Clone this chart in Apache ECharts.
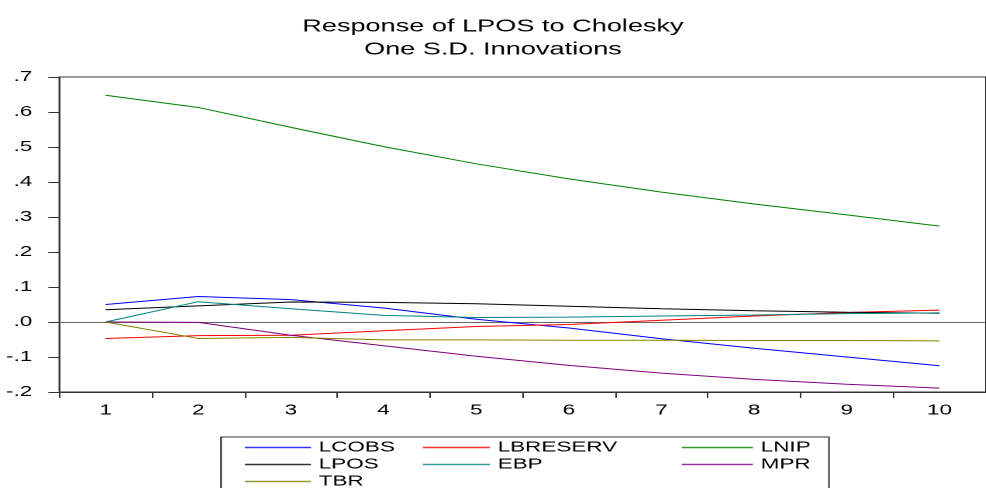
<!DOCTYPE html>
<html>
<head>
<meta charset="utf-8">
<script src="https://cdn.jsdelivr.net/npm/echarts@6/dist/echarts.min.js"></script>
<style>
html,body{margin:0;padding:0;background:#fff;overflow:hidden;width:986px;height:488px;}
#chart{width:636.13px;height:530px;transform:scaleX(1.55);transform-origin:0 0;}
</style>
</head>
<body>
<div id="chart"></div>
<script>
// ---- data ----
const periods = ['1','2','3','4','5','6','7','8','9','10'];
const yTickLabels = ['-.2','-.1','.0','.1','.2','.3','.4','.5','.6','.7'];
const yMin = -0.2, yMax = 0.7, yStep = 0.1;
const titleLines = ['Response of LPOS to Cholesky', 'One S.D. Innovations'];

const LCOBS    = [0.050, 0.073, 0.064, 0.040, 0.008, -0.017, -0.048, -0.075, -0.100, -0.125];
const LBRESERV = [-0.047, -0.039, -0.038, -0.025, -0.013, -0.007, 0.005, 0.017, 0.027, 0.034];
const LNIP     = [0.648, 0.613, 0.556, 0.501, 0.452, 0.409, 0.371, 0.337, 0.306, 0.274];
const LPOS     = [0.035, 0.046, 0.057, 0.056, 0.052, 0.045, 0.038, 0.032, 0.028, 0.025];
const EBP      = [0.000, 0.058, 0.038, 0.019, 0.013, 0.014, 0.017, 0.020, 0.024, 0.026];
const MPR      = [0.000, -0.001, -0.038, -0.068, -0.098, -0.124, -0.146, -0.164, -0.178, -0.189];
const TBR      = [0.000, -0.047, -0.044, -0.051, -0.051, -0.052, -0.052, -0.053, -0.053, -0.054];

const seriesNames  = ['LCOBS','LBRESERV','LNIP','LPOS','EBP','MPR','TBR'];
const seriesValues = [LCOBS, LBRESERV, LNIP, LPOS, EBP, MPR, TBR];
const seriesColors = ['#0000ff','#ff0000','#008000','#000000','#008080','#800080','#808000'];
const legendColumns = [['LCOBS','LPOS','TBR'], ['LBRESERV','EBP'], ['LNIP','MPR']];

// ---- chart ----
const S = 1.55; // horizontal stretch of the whole picture
const px = v => v / S;
const H = 530;  // container height (taller than the window; bottom is cut off like the reference)
const FONT = "'Liberation Sans', Arial, sans-serif";
const colorOf = name => seriesColors[seriesNames.indexOf(name)];

const chart = echarts.init(document.getElementById('chart'), null, {renderer: 'canvas', devicePixelRatio: 2});

const series = seriesNames.map((n, i) => {
  const s = {
    name: n,
    type: 'line',
    data: seriesValues[i],
    symbol: 'none',
    showSymbol: false,
    smooth: false,
    color: seriesColors[i],
    itemStyle: {color: seriesColors[i]},
    lineStyle: {width: 1, color: seriesColors[i]},
    z: 3
  };
  if (i === 0) {
    s.markLine = {
      silent: true,
      symbol: ['none','none'],
      label: {show: false},
      lineStyle: {color: '#666', width: 1, type: 'solid'},
      data: [{yAxis: 0}],
      z: 1
    };
  }
  return s;
});

const legendCommon = {
  orient: 'vertical',
  top: 435,
  itemGap: 2,
  itemHeight: 15,
  textStyle: {fontFamily: FONT, fontSize: 14.5, lineHeight: 15, color: '#000'},
  selectedMode: false
};
const legendLefts = [236, 414, 673];
const legendWidths = [66, 67, 71];

const option = {
  animation: false,
  backgroundColor: '#fff',
  title: {
    text: titleLines.join('\n'),
    left: 'center',
    top: 10,
    textStyle: {fontFamily: FONT, fontSize: 17.5, lineHeight: 23, fontWeight: 'normal', color: '#000'}
  },
  grid: {
    left: px(59.3),
    right: 636.13 - px(993),
    top: 77,
    bottom: H - 392,
    show: true,
    borderColor: '#333',
    borderWidth: 1,
    backgroundColor: 'transparent'
  },
  xAxis: {
    type: 'category',
    data: periods,
    boundaryGap: true,
    axisLine: {show: true, onZero: false, lineStyle: {color: '#333', width: 1}},
    axisTick: {show: true, length: 6, lineStyle: {color: '#333'}},
    axisLabel: {margin: 11, fontFamily: FONT, fontSize: 14.5, color: '#000'},
    splitLine: {show: false}
  },
  yAxis: {
    type: 'value',
    min: yMin, max: yMax, interval: yStep,
    axisLine: {show: true, onZero: false, lineStyle: {color: '#333', width: 1}},
    axisTick: {show: true, length: px(11), lineStyle: {color: '#333'}},
    axisLabel: {
      margin: px(27),
      fontFamily: FONT, fontSize: 14.5, color: '#000',
      formatter: v => yTickLabels[Math.round((v - yMin) / yStep)]
    },
    splitLine: {show: false}
  },
  legend: legendColumns.map((col, k) => Object.assign({}, legendCommon, {
    left: px(legendLefts[k]),
    itemWidth: px(legendWidths[k]),
    data: col.map(n => ({
      name: n,
      itemStyle: {opacity: 0},
      lineStyle: {color: colorOf(n), width: 1.5, opacity: 0.8}
    }))
  })),
  graphic: [{
    type: 'rect',
    silent: true,
    shape: {x: px(221), y: 437, width: px(829 - 221), height: 90},
    style: {fill: 'none', stroke: '#333', lineWidth: 1}
  }],
  series: series
};

chart.setOption(option);
</script>
</body>
</html>
